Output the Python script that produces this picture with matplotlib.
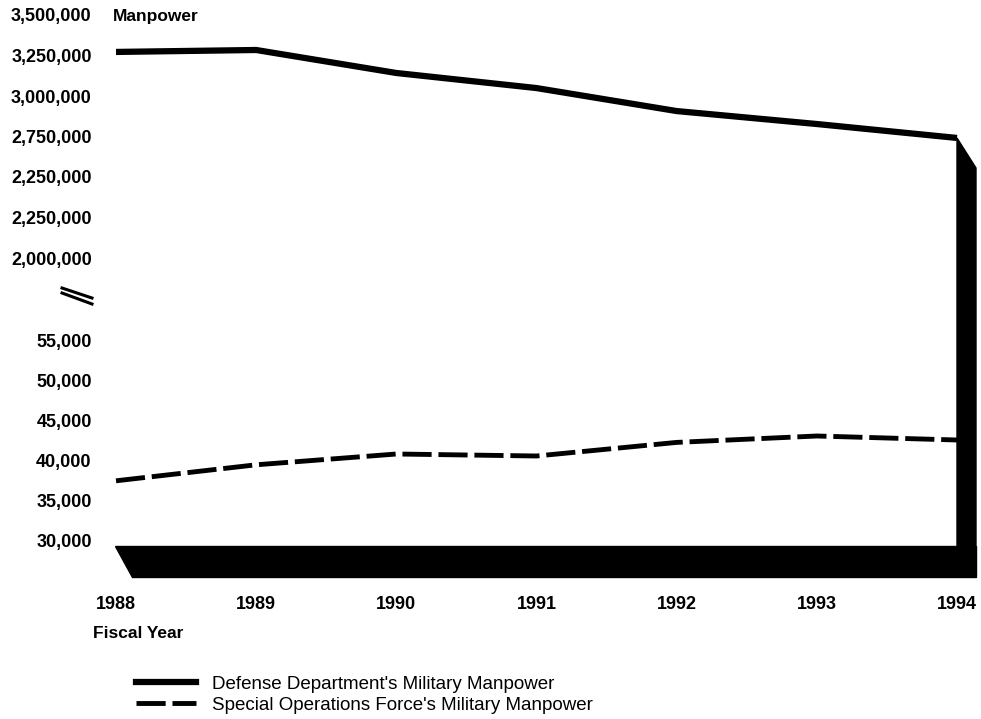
import matplotlib.pyplot as plt
from matplotlib.patches import Polygon
from matplotlib.lines import Line2D

years = [1988, 1989, 1990, 1991, 1992, 1993, 1994]
defense = [3272000, 3284000, 3142000, 3049000, 2907000, 2827000, 2741000]
sof = [37400, 39400, 40750, 40500, 42200, 43000, 42500]

upper_ticks = [2000000, 2250000, 2500000, 2750000, 3000000, 3250000, 3500000]
upper_labels = ['2,000,000', '2,250,000', '2,250,000', '2,750,000',
                '3,000,000', '3,250,000', '3,500,000']
lower_ticks = [30000, 35000, 40000, 45000, 50000, 55000]
lower_labels = ['30,000', '35,000', '40,000', '45,000', '50,000', '55,000']

plt.rcParams['font.family'] = ['Liberation Sans', 'DejaVu Sans']

W, H = 981, 719
fig = plt.figure(figsize=(W / 100, H / 100), dpi=100)


def fx(px):
    return px / W


def fy(py):
    return 1 - py / H


# x scale: 1988 at px 116, 1994 at px 957
xs = (957 - 116) / 6
xlim = (1988 - (116 - 100) / xs, 1994 + (982 - 957) / xs)

# upper panel: 3,500,000 at px 15, 2,000,000 at px 258
up_s = 1500000 / 243
ax_top = fig.add_axes([fx(100), fy(275), fx(982) - fx(100), fy(8) - fy(275)])
ax_top.set_ylim(2000000 - 17 * up_s, 3500000 + 7 * up_s)

# lower panel: 55,000 at px 340, 30,000 at px 540
lo_s = 25000 / 200
ax_bot = fig.add_axes([fx(100), fy(590), fx(982) - fx(100), fy(300) - fy(590)])
ax_bot.set_ylim(30000 - 50 * lo_s, 55000 + 40 * lo_s)

for ax in (ax_top, ax_bot):
    ax.set_xlim(*xlim)
    for s in ax.spines.values():
        s.set_visible(False)
    ax.tick_params(length=0, pad=6, labelsize=13)
    ax.patch.set_alpha(0)

ax_top.set_yticks(upper_ticks)
ax_top.set_yticklabels(upper_labels, fontweight='bold')
ax_top.set_xticks([])
ax_bot.set_yticks(lower_ticks)
ax_bot.set_yticklabels(lower_labels, fontweight='bold')
ax_bot.set_xticks(years)
ax_bot.set_xticklabels([str(y) for y in years], fontweight='bold')
ax_bot.tick_params(axis='x', pad=4)

ax_top.plot(years, defense, color='black', lw=4.5, solid_capstyle='butt')
ax_bot.plot(years, sof, color='black', lw=3.5, dashes=(6, 1.4),
            solid_capstyle='butt', dash_capstyle='butt')

fig.canvas.draw()
inv = fig.transFigure.inverted()


def to_fig(ax, x, y):
    return inv.transform(ax.transData.transform((x, y)))


# right wall anchored to the last defense value
top_l = to_fig(ax_top, years[-1], defense[-1])
wall_w = 19 / W
floor_top = to_fig(ax_bot, years[0], 30000 - 6 * lo_s)[1]
floor_bot = to_fig(ax_bot, years[0], 30000 - 37 * lo_s)[1]
x0 = to_fig(ax_bot, years[0], 30000)[0] - 1 / W
wall = Polygon([(top_l[0], top_l[1]), (top_l[0] + wall_w, top_l[1] - 30 / H),
                (top_l[0] + wall_w, floor_bot), (top_l[0], floor_bot)],
               closed=True, color='black', transform=fig.transFigure)
floor = Polygon([(x0, floor_top), (top_l[0] + wall_w, floor_top),
                 (top_l[0] + wall_w, floor_bot), (x0 + 17 / W, floor_bot)],
                closed=True, color='black', transform=fig.transFigure)
fig.add_artist(wall)
fig.add_artist(floor)

# axis break mark
fig.add_artist(Line2D([fx(62), fx(92)], [fy(288), fy(298)], color='black', lw=2.2))
fig.add_artist(Line2D([fx(62), fx(92)], [fy(293), fy(304)], color='black', lw=2.2))

fig.text(fx(113), fy(17), 'Manpower', fontsize=12.5, fontweight='bold', va='center')
fig.text(fx(93), fy(633), 'Fiscal Year', fontsize=12.5, fontweight='bold', va='center')

handles = [Line2D([], [], color='black', lw=4.5),
           Line2D([], [], color='black', lw=3.5, dashes=(6, 1.4))]
fig.legend(handles, ["Defense Department's Military Manpower",
                     "Special Operations Force's Military Manpower"],
           loc='upper left', bbox_to_anchor=(fx(128), fy(668)), frameon=False,
           fontsize=13.5, handlelength=3.2, handletextpad=0.9, labelspacing=0.22,
           borderaxespad=0)

fig.savefig('out.png', dpi=100)
